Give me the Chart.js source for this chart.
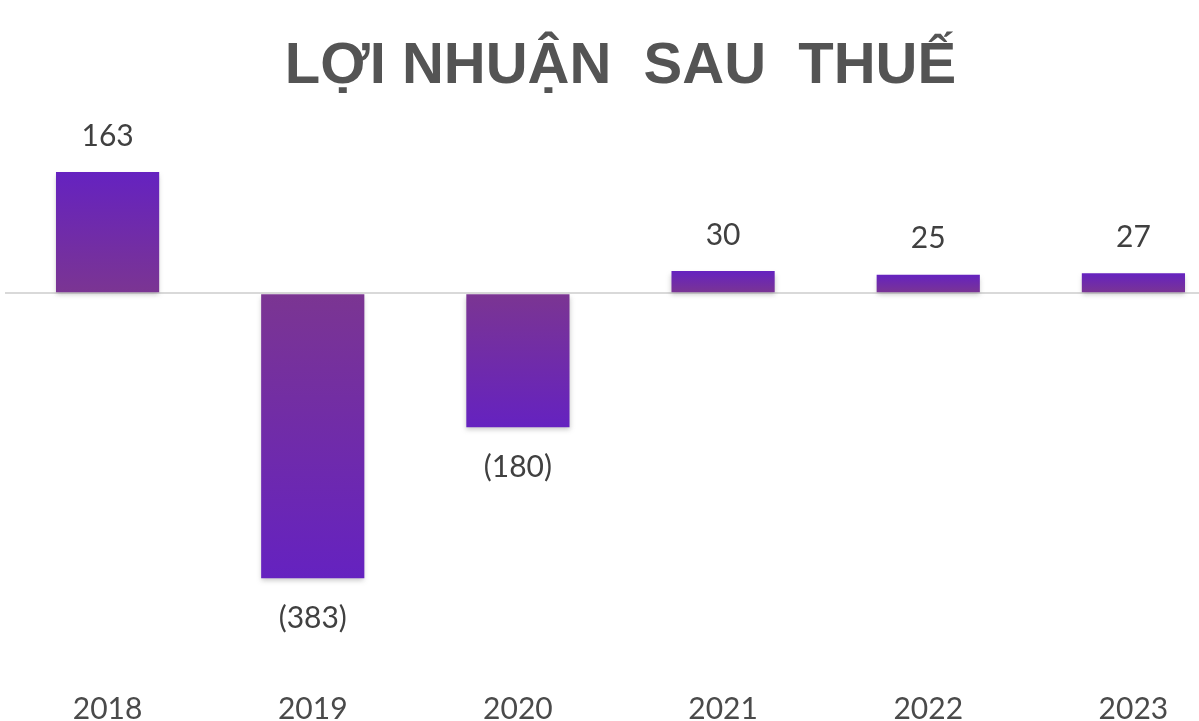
<!DOCTYPE html>
<html><head><meta charset="utf-8">
<script src="https://cdn.jsdelivr.net/npm/chart.js@4.4.1/dist/chart.umd.min.js"></script>
<style>
html,body{margin:0;padding:0;background:#fff;overflow:hidden;width:1199px;height:721px;}
#wrap{position:relative;width:1250px;height:790px;}
</style></head><body>
<div id="wrap"><canvas id="c" width="1250" height="790"></canvas></div>
<script>
const titleText = "LỢI NHUẬN  SAU  THUẾ";
const years = ["2018", "2019", "2020", "2021", "2022", "2023"];
const profit = [163, -383, -180, 30, 25, 27];
const yMin = -450;
const yMax = 200;

function fmt(v){ return v < 0 ? "(" + Math.abs(v) + ")" : String(v); }

const labelPlugin = {
  id: 'valueLabels',
  afterDatasetsDraw(chart){
    const ctx = chart.ctx;
    const meta = chart.getDatasetMeta(0);
    ctx.save();
    ctx.font = '30px Lato, "Open Sans", sans-serif';
    ctx.fillStyle = '#404040';
    ctx.textAlign = 'center';
    ctx.textBaseline = 'middle';
    meta.data.forEach((bar, i) => {
      const v = profit[i];
      const y = v >= 0 ? bar.y - 36 : bar.y + 40;
      ctx.fillText(fmt(v), bar.x, y);
    });
    ctx.restore();
  }
};

const shadowPlugin = {
  id: 'barShadow',
  beforeDatasetDraw(chart){
    const ctx = chart.ctx;
    ctx.save();
    ctx.shadowColor = 'rgba(60,60,60,0.28)';
    ctx.shadowBlur = 5;
    ctx.shadowOffsetY = 3;
  },
  afterDatasetDraw(chart){ chart.ctx.restore(); }
};

new Chart(document.getElementById('c'), {
  type: 'bar',
  data: {
    labels: years,
    datasets: [{
      data: profit,
      backgroundColor(context){
        const chart = context.chart;
        const area = chart.chartArea;
        if (!area || context.type !== 'data') return '#6a28b0';
        const ys = chart.scales.y;
        const y0 = ys.getPixelForValue(0);
        const y1 = ys.getPixelForValue(context.raw);
        if (Math.abs(y1 - y0) < 1) return '#6a28b0';
        const g = chart.ctx.createLinearGradient(0, y0, 0, y1);
        g.addColorStop(0, '#7b3592');
        g.addColorStop(1, '#6522c0');
        return g;
      },
      borderWidth: 0,
      barPercentage: 1,
      categoryPercentage: 0.503
    }]
  },
  options: {
    responsive: false,
    animation: false,
    layout: { padding: { left: 5, right: 14, top: 0, bottom: 0 } },
    plugins: {
      legend: { display: false },
      tooltip: { enabled: false },
      title: {
        display: true,
        text: titleText,
        fullSize: false,
        color: '#545454',
        font: { family: '"Liberation Sans", Arial, sans-serif', size: 58, weight: 'bold' },
        padding: { top: 32, bottom: 43 }
      }
    },
    scales: {
      x: {
        grid: { display: false, drawTicks: false },
        border: { display: false },
        ticks: { color: '#4a4a4a', padding: 63, font: { family: 'Lato, "Open Sans", sans-serif', size: 30 } }
      },
      y: {
        min: yMin, max: yMax,
        ticks: { display: false },
        border: { display: false },
        grid: {
          drawTicks: false,
          lineWidth: 2,
          color(ctx){ return ctx.tick && ctx.tick.value === 0 ? '#d9d9d9' : 'rgba(0,0,0,0)'; }
        }
      }
    }
  },
  plugins: [shadowPlugin, labelPlugin]
});
</script>
</body></html>
